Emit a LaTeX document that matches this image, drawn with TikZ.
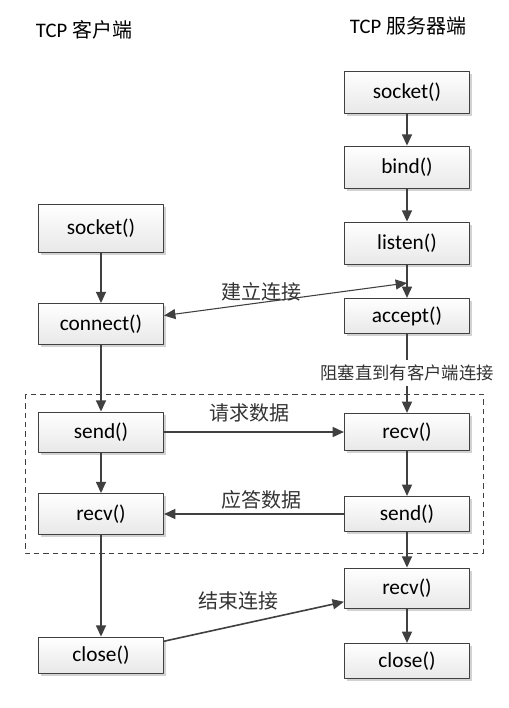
\documentclass[tikz,border=0pt]{standalone}
\usepackage{fontspec}
\setmainfont{Carlito}
\newfontfamily\cjk{Noto Sans CJK SC}
\usetikzlibrary{arrows.meta,shadows}
\definecolor{ink}{HTML}{404040}
\begin{document}
\begin{tikzpicture}[x=0.75pt,y=-0.75pt,>={Triangle[length=8.5pt,width=7.5pt]},line join=round,
	box/.style={draw=ink,line width=0.6pt,top color=white,bottom color=gray!18,minimum width=94pt,minimum height=30pt,
		font=\fontsize{16}{19}\selectfont,drop shadow={shadow xshift=2pt,shadow yshift=-2pt,fill=gray!35,opacity=1}},
	link/.style={draw=ink,line width=1.2pt,->},
	tag/.style={font=\cjk\fontsize{15}{18}\selectfont,text=black!80}]
	\fill[white] (0,0) rectangle (509,708);
	\draw[ink,dash pattern=on 4pt off 3pt,line width=0.6pt] (25,394) rectangle (483,553);
	\node (ctitle) at (84,30) {\fontsize{15.5}{18}\selectfont TCP {\cjk\fontsize{15}{18}\selectfont 客户端}};
	\node (stitle) at (408,26) {\fontsize{15.5}{18}\selectfont TCP {\cjk\fontsize{15}{18}\selectfont 服务器端}};
	\node[box,minimum height=31.5pt] (ssock) at (407,92) {socket()};
	\node[box,minimum height=31.5pt] (bind) at (407,167) {bind()};
	\node[box,minimum height=31.5pt] (listen) at (407,243) {listen()};
	\node[box,minimum height=26.5pt] (accept) at (407,316) {accept()};
	\node[box,minimum height=28pt] (srecv) at (407,432) {recv()};
	\node[box,minimum height=26.5pt] (ssend) at (407,514) {send()};
	\node[box] (slast) at (407,588) {recv()};
	\node[box,minimum height=26.5pt] (sclose) at (407,661) {close()};
	\node[box,minimum height=36pt] (csock) at (101,228) {socket()};
	\node[box,minimum height=30.75pt] (conn) at (101,324) {connect()};
	\node[box] (csend) at (101,432) {send()};
	\node[box,minimum height=30.75pt] (crecv) at (101,514) {recv()};
	\node[box,minimum height=27pt] (cclose) at (101,655) {close()};
	\node[tag] (lconn) at (261,292) {建立连接};
	\node[tag,font=\cjk\fontsize{13}{15}\selectfont] (lwait) at (407,373) {阻塞直到有客户端连接};
	\node[tag] (lask) at (249,413) {请求数据};
	\node[tag] (lreply) at (261,500) {应答数据};
	\node[tag] (lend) at (238,601) {结束连接};
	\coordinate (meet) at (407,283);
	\draw[link] (ssock) -- (bind);
	\draw[link] (bind) -- (listen);
	\draw[link] (listen) -- (accept);
	\draw[ink,line width=1.2pt] (accept) -- (lwait);
	\draw[link] (lwait) -- (srecv);
	\draw[link] (srecv) -- (ssend);
	\draw[link] (ssend) -- (slast);
	\draw[link] (slast) -- (sclose);
	\draw[link] (csock) -- (conn);
	\draw[link] (conn) -- (csend);
	\draw[link] (csend) -- (crecv);
	\draw[link] (crecv) -- (cclose);
	\draw[link,<->,line width=0.8pt] (conn) -- (meet);
	\draw[link] (csend) -- (srecv);
	\draw[link] (ssend) -- (crecv);
	\draw[link] (cclose) -- (slast);
\end{tikzpicture}
\end{document}
